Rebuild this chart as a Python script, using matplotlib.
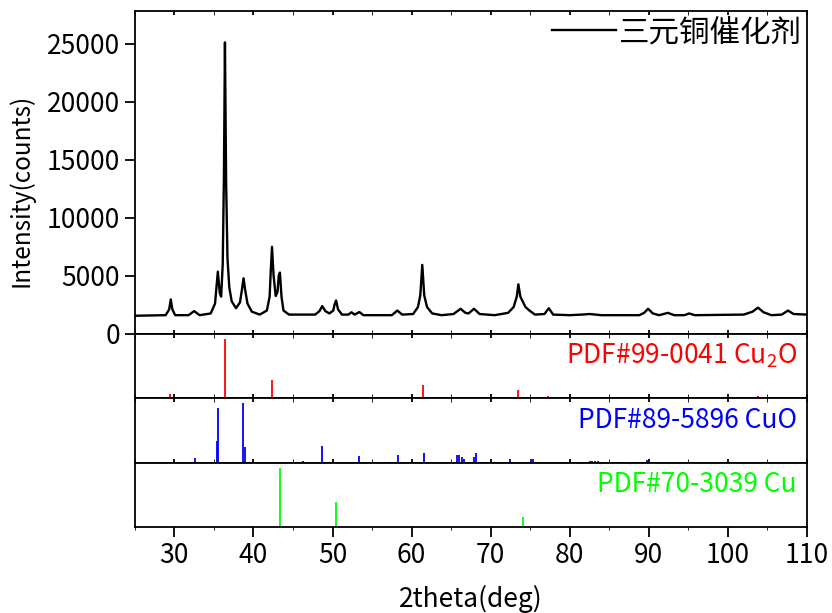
import matplotlib
matplotlib.use('Agg')
import matplotlib.pyplot as plt

plt.rcParams['font.family'] = ['Noto Sans CJK SC', 'DejaVu Sans']
plt.rcParams['mathtext.fontset'] = 'custom'
plt.rcParams['mathtext.rm'] = 'Noto Sans CJK SC'

two_theta = [25.0, 28.9, 29.35, 29.55, 29.75, 30.1, 31.8, 32.5, 33.2, 34.6,
             35.15, 35.5, 35.75, 35.92, 36.12, 36.27, 36.4, 36.55, 36.72, 36.95,
             37.25, 37.8, 38.3, 38.55, 38.75, 38.95, 39.25, 39.8, 40.8, 41.7,
             42.05, 42.2, 42.35, 42.55, 42.82, 43.05, 43.2, 43.35, 43.55, 43.8,
             44.5, 47.8, 48.35, 48.7, 49.1, 49.6, 50.1, 50.25, 50.45, 50.7,
             51.2, 52.0, 52.4, 52.8, 53.4, 53.9, 57.5, 58.2, 58.8, 60.2,
             60.8, 61.1, 61.35, 61.6, 61.95, 62.6, 63.8, 65.3, 66.2, 66.8,
             67.2, 67.9, 68.6, 70.5, 72.2, 72.9, 73.3, 73.5, 73.75, 74.0,
             74.4, 74.9, 75.6, 76.8, 77.35, 77.9, 80.0, 81.5, 82.5, 84.0,
             88.8, 89.4, 89.9, 90.5, 91.3, 92.4, 93.2, 94.5, 95.1, 95.8,
             102.0, 103.1, 103.8, 104.5, 105.5, 106.8, 107.6, 108.3, 110.0]
counts = [1550, 1600, 2100, 2960, 2100, 1600, 1600, 1950, 1600, 1750,
          2600, 5350, 3500, 3200, 6000, 13500, 25100, 13000, 6500, 4000,
          2800, 2200, 2700, 3800, 4780, 3800, 2600, 1900, 1650, 2000,
          3200, 5500, 7490, 5000, 3250, 3600, 5000, 5270, 3200, 2000,
          1650, 1650, 1950, 2380, 1950, 1750, 2000, 2500, 2870, 2100,
          1650, 1650, 1850, 1650, 1870, 1600, 1600, 2000, 1650, 1700,
          2300, 3300, 5930, 3300, 2300, 1750, 1600, 1700, 2150, 1800,
          1750, 2150, 1700, 1600, 1800, 2300, 3200, 4260, 3200, 2850,
          2300, 2000, 1650, 1700, 2200, 1650, 1600, 1650, 1700, 1600,
          1600, 1800, 2150, 1750, 1600, 1800, 1600, 1600, 1750, 1600,
          1650, 1900, 2250, 1850, 1600, 1650, 2000, 1700, 1650]

# reference cards (2theta, relative intensity)
cu2o_pos = [29.5, 36.4, 42.3, 52.4, 61.4, 69.6, 73.5, 77.3, 84.9, 92.4, 103.8, 107.6]
cu2o_int = [7, 100, 31, 1.5, 22, 1.5, 13, 2.5, 1, 1, 3, 1.5]

cuo_pos = [32.57, 35.39, 35.56, 38.72, 38.95, 46.24, 48.72, 51.43, 53.41, 56.68,
           58.27, 61.6, 65.72, 66.0, 66.34, 66.57, 67.87, 68.1, 68.94, 72.39,
           75.1, 75.32, 79.95, 82.5, 82.84, 83.23, 83.63, 86.7, 88.1, 89.8]
cuo_int = [9, 37, 92, 100, 26, 3, 28, 1, 11, 1,
           14, 17, 14, 14, 10, 7, 10, 16, 2, 6,
           6, 7, 1, 4, 4, 4, 4, 1, 1, 5]

cu_pos = [43.3, 50.45, 74.1]
cu_int = [100, 42, 17]

cards = [
    (cu2o_pos, cu2o_int, '#ff0000', 'PDF#99-0041 Cu$_2$O'),
    (cuo_pos, cuo_int, '#0000ff', 'PDF#89-5896 CuO'),
    (cu_pos, cu_int, '#00ff00', 'PDF#70-3039 Cu'),
]

fig = plt.figure(figsize=(8.32, 6.13), dpi=100)
gs = fig.add_gridspec(4, 1, height_ratios=[322, 64, 65, 64], hspace=0,
                      left=0.162, right=0.970, top=0.982, bottom=0.140)
axes = [fig.add_subplot(gs[i]) for i in range(4)]

ax = axes[0]
ax.plot(two_theta, counts, color='black', lw=1.7, label='三元铜催化剂')
ax.set_ylim(0, 27800)
ax.set_yticks([0, 5000, 10000, 15000, 20000, 25000])
ax.set_ylabel('Intensity(counts)', fontsize=17.5)
ax.yaxis.set_label_coords(-0.149, 0.445)
ax.legend(loc='upper right', frameon=False, fontsize=22, handlelength=2.1,
          handletextpad=0.05, borderaxespad=0.1, borderpad=0.1)

for a, (pos, inten, col, name) in zip(axes[1:], cards):
    a.vlines(pos, 0, inten, color=col, lw=1.3)
    a.set_ylim(0, 109)
    a.set_yticks([])
    a.text(0.985, 0.66, name, color=col, fontsize=19, ha='right', va='center',
           transform=a.transAxes)

for a in axes:
    a.set_xlim(25, 110)
    a.set_xticks(range(30, 111, 10))
    a.set_xticks(range(25, 111, 5), minor=True)
    for s in a.spines.values():
        s.set_linewidth(1.3)
    a.tick_params(axis='both', labelsize=19, width=1.3)
    a.tick_params(axis='y', which='major', direction='out', length=7)
    if a is not axes[-1]:
        a.tick_params(axis='x', which='both', direction='in', length=3,
                      labelbottom=False, top=True)
    else:
        a.tick_params(axis='x', which='major', direction='out', length=7)
        a.tick_params(axis='x', which='minor', direction='out', length=2)

axes[-1].set_xlabel('2theta(deg)', fontsize=19, labelpad=12)

fig.savefig('out.png', dpi=100)
